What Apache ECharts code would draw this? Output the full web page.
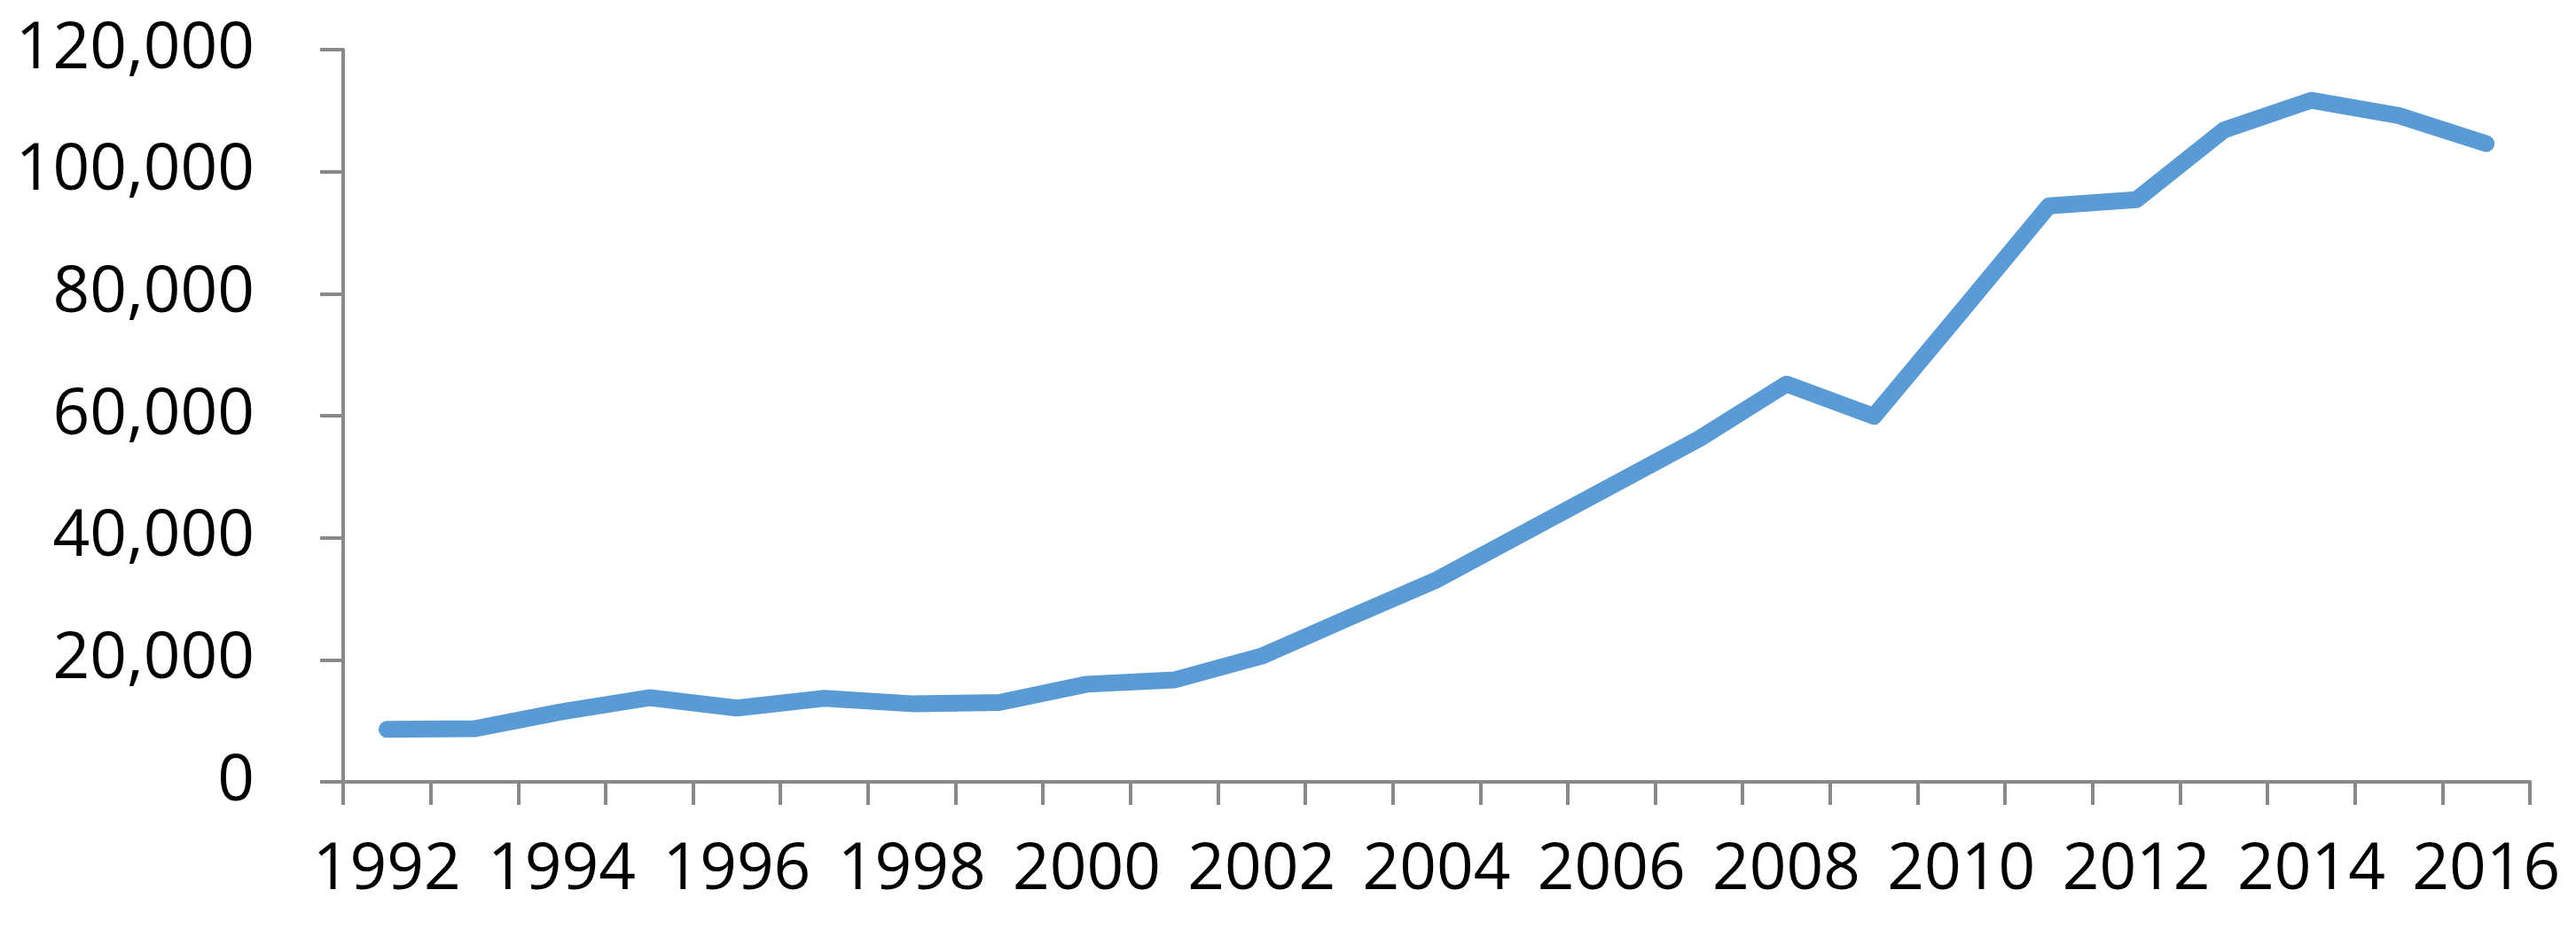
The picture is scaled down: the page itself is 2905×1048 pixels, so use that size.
<!DOCTYPE html>
<html>
<head>
<meta charset="utf-8">
<script src="https://cdn.jsdelivr.net/npm/echarts@6/dist/echarts.min.js"></script>
<style>
html,body{margin:0;padding:0;background:#fff;}
#chart{width:2905px;height:1048px;}
</style>
</head>
<body>
<div id="chart"></div>
<script>
const years = ["1992","1993","1994","1995","1996","1997","1998","1999","2000","2001","2002","2003","2004","2005","2006","2007","2008","2009","2010","2011","2012","2013","2014","2015","2016"];
const values = [8600, 8700, 11500, 13800, 12100, 13700, 12800, 13000, 16000, 16700, 20600, 26900, 33100, 40800, 48500, 56200, 65200, 59900, 77100, 94400, 95400, 106800, 111700, 109200, 104600];
const yTicks = {min: 0, max: 120000, interval: 20000};

const chart = echarts.init(document.getElementById('chart'), null, {renderer: 'canvas'});
const font = '"Open Sans", "Noto Sans", sans-serif';
chart.setOption({
  animation: false,
  backgroundColor: '#ffffff',
  grid: {left: 387, right: 52, top: 56, bottom: 166},
  xAxis: {
    type: 'category',
    data: years,
    boundaryGap: true,
    axisLine: {lineStyle: {color: '#898989', width: 4}},
    axisTick: {show: true, interval: 0, length: 26, lineStyle: {color: '#898989', width: 4}},
    axisLabel: {interval: 1, margin: 64, color: '#000', fontSize: 73, fontFamily: font},
    splitLine: {show: false}
  },
  yAxis: {
    type: 'value',
    min: yTicks.min, max: yTicks.max, interval: yTicks.interval,
    axisLine: {show: true, lineStyle: {color: '#898989', width: 4}},
    axisTick: {show: true, length: 26, lineStyle: {color: '#898989', width: 4}},
    axisLabel: {margin: 100, color: '#000', fontSize: 73, fontFamily: font,
      formatter: v => v.toLocaleString('en-US')},
    splitLine: {show: false}
  },
  series: [{
    type: 'line',
    data: values,
    symbol: 'none',
    lineStyle: {color: '#5B9BD5', width: 19, cap: 'round', join: 'round'}
  }]
});
</script>
</body>
</html>
